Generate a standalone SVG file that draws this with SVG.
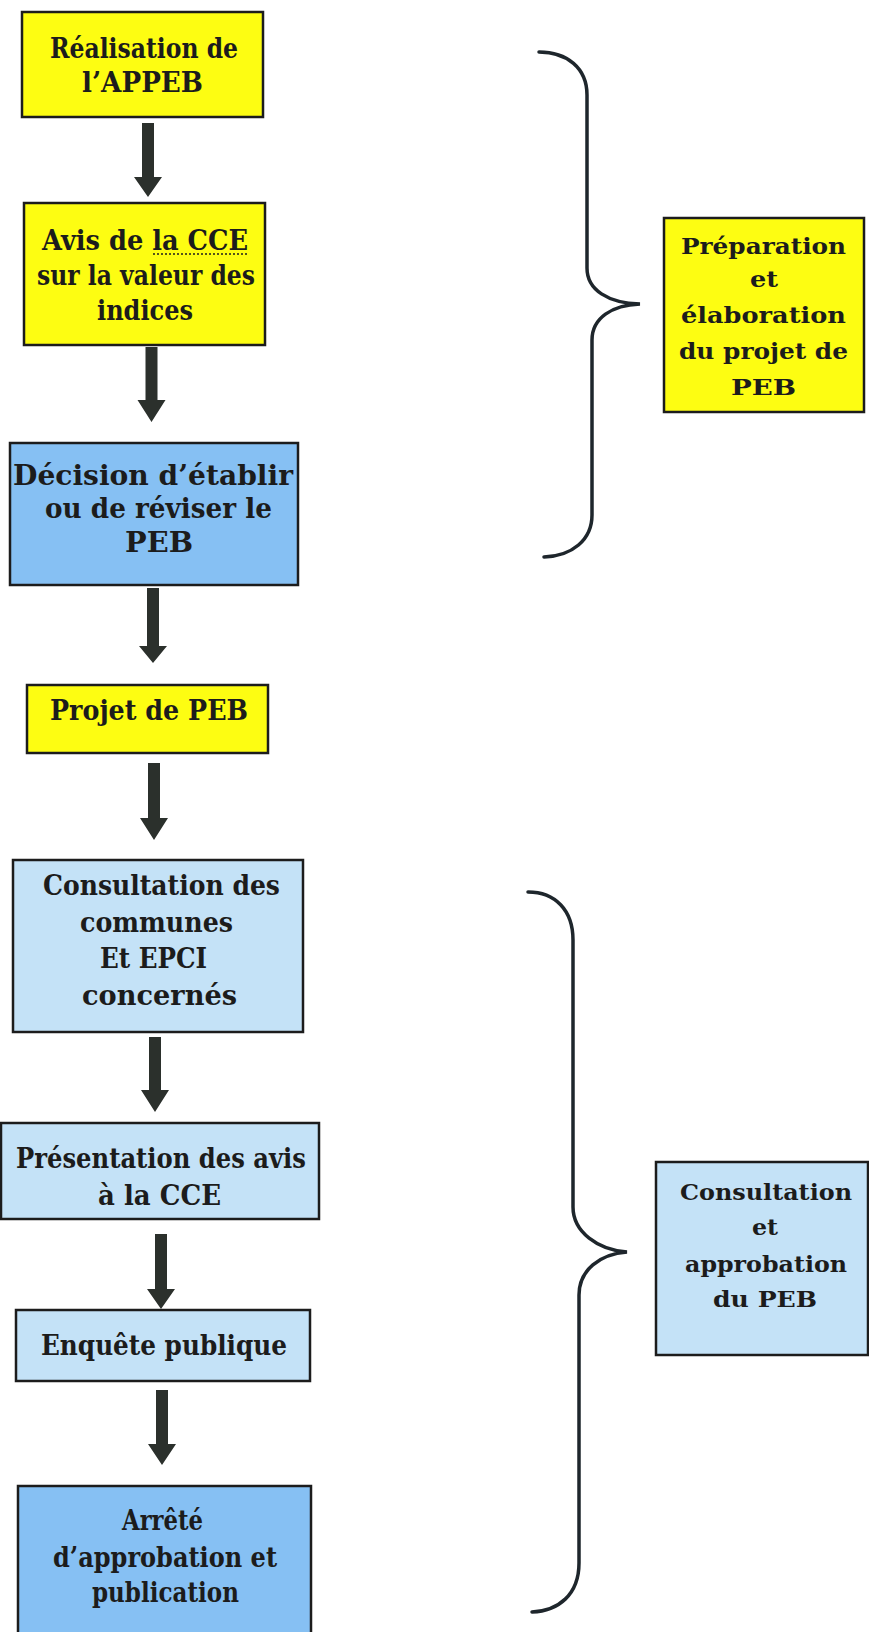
<svg xmlns="http://www.w3.org/2000/svg" width="869" height="1632" viewBox="0 0 869 1632">
<defs>
<style>
.box{stroke:#1c1c1c;stroke-width:2.5}
.yel{fill:#fdfd12}
.dblue{fill:#86c0f3}
.lblue{fill:#c4e2f7}
.t{font-family:"DejaVu Serif","Liberation Serif",serif;font-weight:bold;font-size:27px;fill:#1c1c1c}
.s{font-family:"DejaVu Serif","Liberation Serif",serif;font-weight:bold;font-size:23px;fill:#1c1c1c}
.arrow{fill:#2b302c}
.brace{fill:none;stroke:#1e262c;stroke-width:3.5;stroke-linecap:round}
</style>
</defs>
<rect width="869" height="1632" fill="#ffffff"/>

<g id="n1">
<rect class="box yel" x="22" y="12" width="241" height="105"/>
<text class="t" x="50" y="58" textLength="188" lengthAdjust="spacingAndGlyphs">Réalisation de</text>
<text class="t" x="82" y="92" textLength="121" lengthAdjust="spacingAndGlyphs">l’APPEB</text>
</g>

<g id="n2">
<rect class="box yel" x="24" y="203" width="241" height="142"/>
<text class="t" x="42" y="250" textLength="206" lengthAdjust="spacingAndGlyphs">Avis de la CCE</text>
<line x1="153" y1="254" x2="248" y2="254" stroke="#1c1c1c" stroke-width="1.5" stroke-dasharray="2,2"/>
<text class="t" x="37" y="285" textLength="218" lengthAdjust="spacingAndGlyphs">sur la valeur des</text>
<text class="t" x="97" y="320" textLength="96" lengthAdjust="spacingAndGlyphs">indices</text>
</g>

<g id="n3">
<rect class="box dblue" x="10" y="443" width="288" height="142"/>
<text class="t" x="13" y="485" textLength="280" lengthAdjust="spacingAndGlyphs">Décision d’établir</text>
<text class="t" x="45" y="518" textLength="227" lengthAdjust="spacingAndGlyphs">ou de réviser le</text>
<text class="t" x="125" y="552" textLength="68" lengthAdjust="spacingAndGlyphs">PEB</text>
</g>

<g id="n4">
<rect class="box yel" x="27" y="685" width="241" height="68"/>
<text class="t" x="50" y="720" textLength="198" lengthAdjust="spacingAndGlyphs">Projet de PEB</text>
</g>

<g id="n5">
<rect class="box lblue" x="13" y="860" width="290" height="172"/>
<text class="t" x="43" y="895" textLength="237" lengthAdjust="spacingAndGlyphs">Consultation des</text>
<text class="t" x="80" y="932" textLength="153" lengthAdjust="spacingAndGlyphs">communes</text>
<text class="t" x="100" y="968" textLength="107" lengthAdjust="spacingAndGlyphs">Et EPCI</text>
<text class="t" x="82" y="1005" textLength="155" lengthAdjust="spacingAndGlyphs">concernés</text>
</g>

<g id="n6">
<rect class="box lblue" x="1" y="1123" width="318" height="96"/>
<text class="t" x="16" y="1168" textLength="290" lengthAdjust="spacingAndGlyphs">Présentation des avis</text>
<text class="t" x="98" y="1205" textLength="123" lengthAdjust="spacingAndGlyphs">à la CCE</text>
</g>

<g id="n7">
<rect class="box lblue" x="16" y="1310" width="294" height="71"/>
<text class="t" x="41" y="1355" textLength="246" lengthAdjust="spacingAndGlyphs">Enquête publique</text>
</g>

<g id="n8">
<rect class="box dblue" x="18" y="1486" width="293" height="160"/>
<text class="t" x="122" y="1530" textLength="81" lengthAdjust="spacingAndGlyphs">Arrêté</text>
<text class="t" x="53" y="1567" textLength="224" lengthAdjust="spacingAndGlyphs">d’approbation et</text>
<text class="t" x="92" y="1602" textLength="147" lengthAdjust="spacingAndGlyphs">publication</text>
</g>

<g id="label1">
<rect class="box yel" x="664" y="218" width="200" height="194"/>
<text class="s" x="681" y="254" textLength="165" lengthAdjust="spacingAndGlyphs">Préparation</text>
<text class="s" x="750" y="287" textLength="28" lengthAdjust="spacingAndGlyphs">et</text>
<text class="s" x="681" y="323" textLength="165" lengthAdjust="spacingAndGlyphs">élaboration</text>
<text class="s" x="679" y="359" textLength="169" lengthAdjust="spacingAndGlyphs">du projet de</text>
<text class="s" x="731" y="395" textLength="65" lengthAdjust="spacingAndGlyphs">PEB</text>
</g>

<g id="label2">
<rect class="box lblue" x="656" y="1162" width="212" height="193"/>
<text class="s" x="680" y="1200" textLength="172" lengthAdjust="spacingAndGlyphs">Consultation</text>
<text class="s" x="752" y="1235" textLength="26" lengthAdjust="spacingAndGlyphs">et</text>
<text class="s" x="685" y="1272" textLength="162" lengthAdjust="spacingAndGlyphs">approbation</text>
<text class="s" x="713" y="1307" textLength="104" lengthAdjust="spacingAndGlyphs">du PEB</text>
</g>

<g id="connectors">
<polygon class="arrow" points="142,123 154,123 154,177 162,177 148,197 134,177 142,177"/>
<polygon class="arrow" points="145.5,347 157.5,347 157.5,400 165.5,400 151.5,422 137.5,400 145.5,400"/>
<polygon class="arrow" points="147,588 159,588 159,646 167,646 153,663 139,646 147,646"/>
<polygon class="arrow" points="148,763 160,763 160,818 168,818 154,840 140,818 148,818"/>
<polygon class="arrow" points="149,1037 161,1037 161,1090 169,1090 155,1112 141,1090 149,1090"/>
<polygon class="arrow" points="155,1234 167,1234 167,1289 175,1289 161,1309 147,1289 155,1289"/>
<polygon class="arrow" points="156,1390 168,1390 168,1444 176,1444 162,1465 148,1444 156,1444"/>
<path class="brace" d="M539,52 C567,52 587,68 587,95 L587,268 C587,290 608,303 640,304 C612,305 592,318 592,340 L592,515 C592,540 572,556 544,557"/>
<path class="brace" d="M528,892 C555,892 573,910 573,940 L573,1207 C573,1232 598,1250 627,1252 C600,1254 579,1270 579,1295 L579,1563 C579,1595 558,1611 532,1612"/>
</g>
</svg>
